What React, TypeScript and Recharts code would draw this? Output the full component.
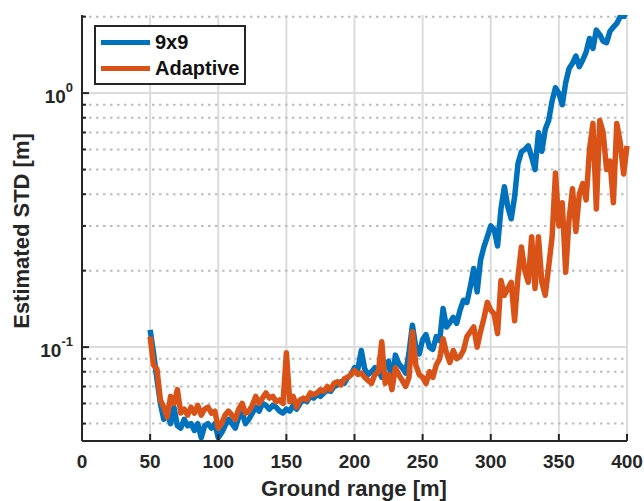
import { LineChart, Line, XAxis, YAxis, CartesianGrid, Legend, Label } from "recharts";

// ── data ─────────────────────────────────────────────────────────────────

// ground range [m], one sample every 2.5 m
const RANGE = [
  50, 52.5, 55, 57.5, 60, 62.5, 65, 67.5, 70, 72.5,
  75, 77.5, 80, 82.5, 85, 87.5, 90, 92.5, 95, 97.5,
  100, 102.5, 105, 107.5, 110, 112.5, 115, 117.5, 120, 122.5,
  125, 127.5, 130, 132.5, 135, 137.5, 140, 142.5, 145, 147.5,
  150, 152.5, 155, 157.5, 160, 162.5, 165, 167.5, 170, 172.5,
  175, 177.5, 180, 182.5, 185, 187.5, 190, 192.5, 195, 197.5,
  200, 202.5, 205, 207.5, 210, 212.5, 215, 217.5, 220, 222.5,
  225, 227.5, 230, 232.5, 235, 237.5, 240, 242.5, 245, 247.5,
  250, 252.5, 255, 257.5, 260, 262.5, 265, 267.5, 270, 272.5,
  275, 277.5, 280, 282.5, 285, 287.5, 290, 292.5, 295, 297.5,
  300, 302.5, 305, 307.5, 310, 312.5, 315, 317.5, 320, 322.5,
  325, 327.5, 330, 332.5, 335, 337.5, 340, 342.5, 345, 347.5,
  350, 352.5, 355, 357.5, 360, 362.5, 365, 367.5, 370, 372.5,
  375, 377.5, 380, 382.5, 385, 387.5, 390, 392.5, 395, 397.5,
  400,
];

// estimated STD [m], 9x9 window
const NINE = [
  0.117, 0.095, 0.075, 0.060, 0.052, 0.055, 0.050, 0.058, 0.049, 0.048,
  0.052, 0.049, 0.050, 0.047, 0.050, 0.044, 0.049, 0.050, 0.048, 0.050,
  0.044, 0.046, 0.049, 0.052, 0.050, 0.048, 0.053, 0.055, 0.050, 0.052,
  0.055, 0.058, 0.056, 0.060, 0.059, 0.057, 0.059, 0.058, 0.056, 0.055,
  0.057, 0.056, 0.059, 0.057, 0.060, 0.062, 0.061, 0.064, 0.063, 0.065,
  0.064, 0.066, 0.068, 0.067, 0.070, 0.071, 0.073, 0.072, 0.076, 0.078,
  0.083, 0.082, 0.097, 0.082, 0.078, 0.080, 0.083, 0.081, 0.076, 0.085,
  0.088, 0.072, 0.093, 0.086, 0.083, 0.079, 0.095, 0.122, 0.100, 0.094,
  0.107, 0.112, 0.100, 0.098, 0.110, 0.106, 0.142, 0.120, 0.125, 0.131,
  0.124, 0.140, 0.153, 0.150, 0.173, 0.204, 0.165, 0.220, 0.248, 0.272,
  0.300, 0.290, 0.250, 0.350, 0.428, 0.357, 0.320, 0.390, 0.528, 0.588,
  0.600, 0.620, 0.561, 0.500, 0.700, 0.590, 0.720, 0.780, 0.930, 1.05,
  1.00, 0.90, 1.10, 1.25, 1.31, 1.40, 1.27, 1.35, 1.45, 1.64,
  1.50, 1.77, 1.70, 1.60, 1.58, 1.75, 1.82, 1.88, 2.00, 2.03,
  2.00,
];

// estimated STD [m], adaptive window
const ADAPTIVE = [
  0.110, 0.085, 0.082, 0.062, 0.058, 0.053, 0.064, 0.060, 0.068, 0.055,
  0.057, 0.054, 0.058, 0.055, 0.059, 0.054, 0.057, 0.058, 0.055, 0.056,
  0.048, 0.050, 0.054, 0.056, 0.054, 0.052, 0.057, 0.060, 0.055, 0.056,
  0.059, 0.064, 0.060, 0.063, 0.066, 0.063, 0.064, 0.061, 0.062, 0.060,
  0.095, 0.061, 0.064, 0.058, 0.062, 0.063, 0.062, 0.066, 0.065, 0.066,
  0.068, 0.067, 0.070, 0.068, 0.072, 0.073, 0.071, 0.075, 0.076, 0.078,
  0.081, 0.078, 0.079, 0.076, 0.074, 0.072, 0.078, 0.080, 0.105, 0.072,
  0.078, 0.068, 0.083, 0.078, 0.074, 0.070, 0.076, 0.115, 0.085, 0.078,
  0.076, 0.072, 0.080, 0.076, 0.085, 0.090, 0.108, 0.095, 0.087, 0.097,
  0.090, 0.092, 0.097, 0.110, 0.115, 0.120, 0.100, 0.115, 0.130, 0.150,
  0.140, 0.135, 0.113, 0.183, 0.160, 0.170, 0.180, 0.127, 0.190, 0.248,
  0.200, 0.180, 0.272, 0.170, 0.272, 0.180, 0.160, 0.207, 0.270, 0.485,
  0.300, 0.370, 0.197, 0.320, 0.420, 0.285, 0.400, 0.440, 0.380, 0.600,
  0.760, 0.350, 0.780, 0.700, 0.500, 0.540, 0.370, 0.760, 0.640, 0.480,
  0.620,
];

const X_TICKS = [0, 50, 100, 150, 200, 250, 300, 350, 400];
const Y_MAJOR = [0.1, 1];
const Y_MINOR = [0.05, 0.06, 0.07, 0.08, 0.09, 0.2, 0.3, 0.4, 0.5, 0.6, 0.7, 0.8, 0.9, 2];
const Y_EXP: Record<string, string> = { "0.1": "-1", "1": "0" };

const DATA = RANGE.map((x, i) => ({ x, nine: NINE[i], adaptive: ADAPTIVE[i] }));

// ── theme ────────────────────────────────────────────────────────────────

const INK = "#262626";
const FONT = "'Liberation Sans', Arial, Helvetica, sans-serif";
const BLUE = "#0072BD";
const ORANGE = "#D95319";
const Y_DOMAIN: [number, number] = [0.0427, 2.03];
const Y_TICKS = [...Y_MINOR, ...Y_MAJOR].sort((a, b) => a - b);

// ── ticks (MATLAB style: pointing inward) ────────────────────────────────

function BottomTick(props: any) {
  const { x, y, payload } = props;
  return (
    <g>
      <line x1={x} x2={x} y1={y} y2={y - 7} stroke={INK} strokeWidth={2} />
      <text x={x} y={y + 27} textAnchor="middle" fontSize={19} fontWeight="bold" fontFamily={FONT} fill={INK}>
        {payload.value}
      </text>
    </g>
  );
}

function TopTick(props: any) {
  const { x, y } = props;
  return <line x1={x} x2={x} y1={y} y2={y + 7} stroke={INK} strokeWidth={2} />;
}

function LeftTick(props: any) {
  const { x, y, payload } = props;
  const exp = Y_EXP[String(payload.value)];
  return (
    <g>
      <line x1={x} x2={x + (exp ? 7 : 4)} y1={y} y2={y} stroke={INK} strokeWidth={2} />
      {exp && (
        <text x={x - 9} y={y + 10} textAnchor="end" fontSize={19} fontWeight="bold" fontFamily={FONT} fill={INK}>
          10
          <tspan fontSize={13} dy={-11}>{exp}</tspan>
        </text>
      )}
    </g>
  );
}

function RightTick(props: any) {
  const { x, y, payload } = props;
  const major = Y_EXP[String(payload.value)] !== undefined;
  return <line x1={x} x2={x - (major ? 7 : 4)} y1={y} y2={y} stroke={INK} strokeWidth={2} />;
}

// ── axis titles ──────────────────────────────────────────────────────────

function XTitle() {
  return (
    <text x={354} y={496} textAnchor="middle" fontSize={22} fontWeight="bold" fontFamily={FONT} fill={INK}>
      Ground range [m]
    </text>
  );
}

function YTitle() {
  return (
    <text
      x={29}
      y={231}
      transform="rotate(-90 29 231)"
      textAnchor="middle"
      fontSize={22}
      fontWeight="bold"
      fontFamily={FONT}
      fill={INK}
    >
      Estimated STD [m]
    </text>
  );
}

// ── legend box ───────────────────────────────────────────────────────────

const LEGEND_ROWS = [
  { label: "9x9", color: BLUE },
  { label: "Adaptive", color: ORANGE },
];

function LegendBox() {
  return (
    <div
      style={{
        width: 148,
        height: 54,
        border: `2px solid ${INK}`,
        background: "#fff",
        paddingTop: 2,
        boxSizing: "content-box",
      }}
    >
      {LEGEND_ROWS.map((r) => (
        <div key={r.label} style={{ display: "flex", alignItems: "center", height: 26 }}>
          <div style={{ width: 49, height: 5, background: r.color, marginLeft: 5, marginRight: 5 }} />
          <span style={{ fontFamily: FONT, fontWeight: "bold", fontSize: 20, color: "#111", lineHeight: "26px" }}>
            {r.label}
          </span>
        </div>
      ))}
    </div>
  );
}

export default function App() {
  return (
    <div style={{ position: "absolute", left: 0, top: 0, background: "#fff" }}>
      <LineChart width={644} height={501} data={DATA} margin={{ top: 15, right: 17, bottom: 0, left: 0 }}>
        <CartesianGrid
          stroke="#dcdcdc"
          strokeWidth={2}
          horizontalValues={Y_MAJOR}
          verticalValues={X_TICKS}
        />
        <CartesianGrid
          stroke="#bdbdbd"
          strokeWidth={2}
          strokeDasharray="2.5 4.5"
          vertical={false}
          horizontalValues={Y_MINOR}
        />
        <XAxis
          dataKey="x"
          type="number"
          domain={[0, 400]}
          ticks={X_TICKS}
          interval={0}
          height={60}
          tickSize={0}
          tickMargin={0}
          tickLine={false}
          axisLine={{ stroke: INK, strokeWidth: 2 }}
          tick={BottomTick}
        >
          <Label content={XTitle} />
        </XAxis>
        <XAxis
          xAxisId="top"
          orientation="top"
          dataKey="x"
          type="number"
          domain={[0, 400]}
          ticks={X_TICKS}
          interval={0}
          height={0}
          tickSize={0}
          tickMargin={0}
          tickLine={false}
          axisLine={{ stroke: INK, strokeWidth: 2 }}
          tick={TopTick}
        />
        <YAxis
          scale="log"
          domain={Y_DOMAIN}
          allowDataOverflow
          ticks={Y_TICKS}
          interval={0}
          width={82}
          tickSize={0}
          tickMargin={0}
          tickLine={false}
          axisLine={{ stroke: INK, strokeWidth: 2 }}
          tick={LeftTick}
        >
          <Label content={YTitle} />
        </YAxis>
        <YAxis
          yAxisId="right"
          orientation="right"
          scale="log"
          domain={Y_DOMAIN}
          allowDataOverflow
          ticks={Y_TICKS}
          interval={0}
          width={0}
          tickSize={0}
          tickMargin={0}
          tickLine={false}
          axisLine={{ stroke: INK, strokeWidth: 2 }}
          tick={RightTick}
        />
        <Legend
          content={LegendBox}
          layout="horizontal"
          verticalAlign="middle"
          align="center"
          wrapperStyle={{ left: 94, top: 25, width: "auto", height: "auto" }}
        />
        <Line
          dataKey="nine"
          name="9x9"
          type="linear"
          stroke={BLUE}
          strokeWidth={5.5}
          strokeLinejoin="round"
          dot={false}
          isAnimationActive={false}
        />
        <Line
          dataKey="adaptive"
          name="Adaptive"
          type="linear"
          stroke={ORANGE}
          strokeWidth={5.5}
          strokeLinejoin="round"
          dot={false}
          isAnimationActive={false}
        />
      </LineChart>
    </div>
  );
}
